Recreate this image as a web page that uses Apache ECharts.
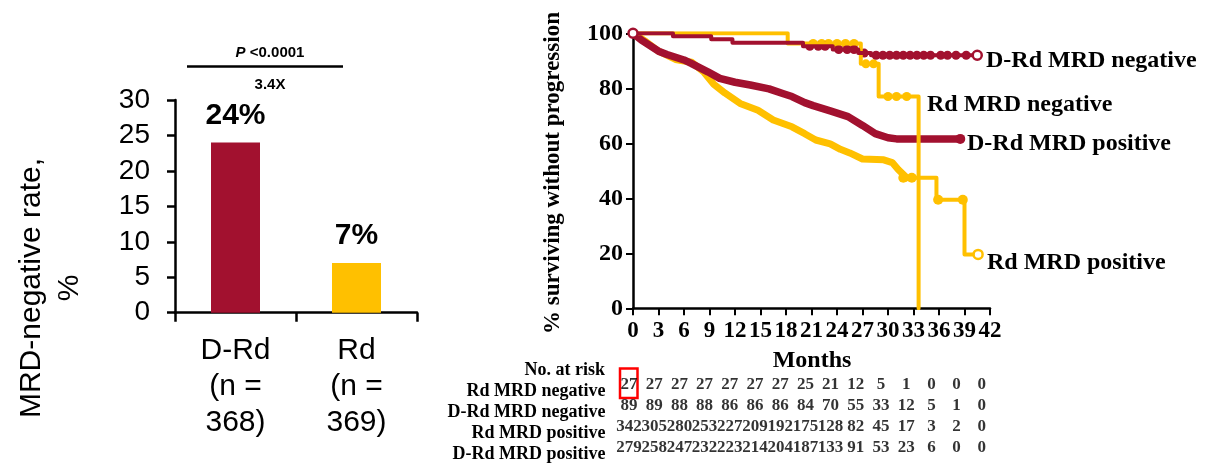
<!DOCTYPE html>
<html>
<head>
<meta charset="utf-8">
<script src="https://cdn.jsdelivr.net/npm/echarts@6.0.0/dist/echarts.min.js"></script>
<style>
  html, body { margin: 0; padding: 0; background: #fff; }
  #main { width: 1206px; height: 465px; }
</style>
</head>
<body>
<div id="main"></div>
<script>
// left panel: MRD-negative rate
const barCats = ['D-Rd\n(n =\n368)', 'Rd\n(n =\n369)'];
const barVals = [24, 7];
const barColors = ['#A2112F', '#FFC000'];

// right panel: PFS curves (months, % surviving)
const monthTicks = [0, 3, 6, 9, 12, 15, 18, 21, 24, 27, 30, 33, 36, 39, 42];
const rdNeg = [[0, 100], [18.2, 100], [18.2, 96.3], [26.8, 96.3], [26.8, 88.9], [28.9, 88.9], [28.9, 77], [33.6, 77], [33.6, 0]];
const drdNeg = [[0, 100], [4.7, 100], [4.7, 98.9], [9.2, 98.9], [9.2, 97.8], [11.7, 97.8], [11.7, 96.6], [20, 96.6], [20, 95.3],
    [23.5, 95.3], [23.5, 94.1], [26.5, 94.1], [26.5, 92.8], [28, 92.8], [28, 92], [40.5, 92]];
const rdPos = [[0, 100], [1.5, 97], [3, 93.5], [5, 90.5], [6.9, 89.5], [8.3, 86], [9.5, 81.5], [10.8, 78.3], [12.6, 74.5], [14.7, 72],
    [16.5, 68.5], [18.7, 66], [20.2, 63.5], [21.5, 61.2], [23.2, 59.8], [24.4, 57.8], [25.5, 56.5], [27, 54.3], [29.5, 54],
    [30.5, 53], [31.2, 50.5], [32.2, 47.5]];
const rdPosTail = [[32.2, 47.5], [35.7, 47.5], [35.7, 39.5], [39, 39.5], [39, 19.6], [40.6, 19.6]];
const drdPos = [[0, 100], [1, 97.5], [2, 95.5], [3, 93.5], [4, 92.3], [6, 90.3], [6.9, 89], [8.8, 86], [10.2, 83.6], [12, 82.2],
    [13.8, 81.2], [16, 79.8], [17.7, 78], [18.7, 77], [20.2, 74.8], [21.2, 73.7], [23.2, 71.8], [25.3, 69.7], [27, 66.5],
    [28.5, 63.5], [30, 62], [31, 61.6], [38.5, 61.6]];

// censoring marks
const drdNegCensor = [[20.8, 95.3], [21.8, 95.3], [22.6, 95.3], [24.2, 94.1], [25.2, 94.1], [26, 94.1], [27.2, 92.8], [28.6, 92],
    [29.4, 92], [30.2, 92], [31, 92], [31.8, 92], [32.6, 92], [33.4, 92], [34.2, 92], [35, 92], [36.2, 92], [37, 92], [38, 92], [39.2, 92]];
const rdNegCensor = [[21.2, 96.3], [22.2, 96.3], [23, 96.3], [24, 96.3], [25, 96.3], [26, 96.3], [27.4, 88.9], [28.3, 88.9],
    [30, 77], [31, 77], [32.2, 77]];
const rdPosCensor = [[31.8, 47.5], [32.8, 47.5], [35.9, 39.5], [38.8, 39.5]];
const drdPosCensor = [[38.5, 61.6]];

// number at risk
const riskRows = ['Rd MRD negative', 'D-Rd MRD negative', 'Rd MRD positive', 'D-Rd MRD positive'];
const riskRdNeg = [27, 27, 27, 27, 27, 27, 27, 25, 21, 12, 5, 1, 0, 0, 0];
const riskDRdNeg = [89, 89, 88, 88, 86, 86, 86, 84, 70, 55, 33, 12, 5, 1, 0];
const riskRdPos = [342, 305, 280, 253, 227, 209, 192, 175, 128, 82, 45, 17, 3, 2, 0];
const riskDRdPos = [279, 258, 247, 232, 223, 214, 204, 187, 133, 91, 53, 23, 6, 0, 0];

const RED = '#A2112F';
const YEL = '#FFC000';
const SANS = 'Liberation Sans';
const SERIF = 'Liberation Serif';

let myChart = echarts.init(document.getElementById('main'));

let riskData = [];
[riskRdNeg, riskDRdNeg, riskRdPos, riskDRdPos].forEach((row, r) => {
    row.forEach((v, c) => riskData.push([c, r, v]));
});

function lineSeries(data, color, width) {
    return {
        type: 'line', xAxisIndex: 1, yAxisIndex: 1, data: data,
        showSymbol: false, symbol: 'none',
        lineStyle: { color: color, width: width, join: 'round', cap: 'round' },
        silent: true
    };
}
function censorSeries(data, color, size) {
    return {
        type: 'scatter', xAxisIndex: 1, yAxisIndex: 1, data: data,
        symbol: 'circle', symbolSize: size,
        itemStyle: { color: color, opacity: 1 },
        silent: true
    };
}
function openSeries(data, color) {
    return {
        type: 'scatter', xAxisIndex: 1, yAxisIndex: 1, data: data,
        symbol: 'circle', symbolSize: 9,
        itemStyle: { color: '#fff', borderColor: color, borderWidth: 2.5, opacity: 1 },
        silent: true, z: 5
    };
}

const axisBlack = { lineStyle: { color: '#000', width: 2.5 } };

myChart.setOption({
    animation: false,
    backgroundColor: '#fff',
    grid: [
        { left: 175, top: 100, width: 242, height: 212.7, outerBoundsMode: 'none' },
        { left: 633, top: 33.3, width: 357, height: 275, outerBoundsMode: 'none' },
        { left: 616.4, top: 374.5, width: 378, height: 84, outerBoundsMode: 'none' }
    ],
    xAxis: [
        {
            gridIndex: 0, type: 'category', data: barCats,
            axisLine: axisBlack,
            axisTick: { show: true, length: 9, lineStyle: { color: '#000', width: 2.5 } },
            axisLabel: { color: '#000', fontFamily: SANS, fontSize: 30, lineHeight: 36, margin: 20, interval: 0 }
        },
        {
            gridIndex: 1, type: 'value', min: 0, max: 42, interval: 3,
            axisLine: axisBlack,
            axisTick: { show: true, length: 7, lineStyle: { color: '#000', width: 2 } },
            axisLabel: { color: '#000', fontFamily: SERIF, fontWeight: 'bold', fontSize: 23, margin: 11 },
            splitLine: { show: false }
        },
        {
            gridIndex: 2, type: 'category', data: monthTicks,
            show: false
        }
    ],
    yAxis: [
        {
            gridIndex: 0, type: 'value', min: 0, max: 30, interval: 5,
            axisLine: { show: true, lineStyle: { color: '#000', width: 2.5 } },
            axisTick: { show: true, length: 8, lineStyle: { color: '#000', width: 2.5 } },
            axisLabel: { color: '#000', fontFamily: SANS, fontSize: 28, margin: 25 },
            splitLine: { show: false }
        },
        {
            gridIndex: 1, type: 'value', min: 0, max: 100, interval: 20,
            axisLine: { show: true, lineStyle: { color: '#000', width: 2.5 } },
            axisTick: { show: true, length: 7, lineStyle: { color: '#000', width: 2 } },
            axisLabel: { color: '#000', fontFamily: SERIF, fontWeight: 'bold', fontSize: 24, margin: 10 },
            splitLine: { show: false }
        },
        {
            gridIndex: 2, type: 'category', data: riskRows, inverse: true,
            axisLine: { show: false }, axisTick: { show: false },
            axisLabel: {
                color: '#000', fontFamily: SERIF, fontWeight: 'bold', fontSize: 18, margin: 11,
                verticalAlign: 'top', lineHeight: 13, interval: 0, hideOverlap: false
            }
        }
    ],
    series: [
        {
            type: 'bar', xAxisIndex: 0, yAxisIndex: 0, barWidth: 49,
            data: barVals.map((v, i) => ({ value: v, itemStyle: { color: barColors[i] } })),
            label: {
                show: true, position: 'top', distance: 12,
                formatter: '{c}%', color: '#000', fontFamily: SANS, fontWeight: 'bold', fontSize: 30
            },
            silent: true
        },
        lineSeries(rdPos, YEL, 7),
        lineSeries(rdPosTail, YEL, 4),
        censorSeries(rdPosCensor, YEL, 10),
        lineSeries(drdPos, RED, 7.5),
        censorSeries(drdPosCensor, RED, 10),
        lineSeries(rdNeg, YEL, 4),
        censorSeries(rdNegCensor, YEL, 9),
        lineSeries(drdNeg, RED, 4),
        censorSeries(drdNegCensor, RED, 9),
        openSeries([[0, 100], drdNeg[drdNeg.length - 1]], RED),
        openSeries([rdPosTail[rdPosTail.length - 1]], YEL),
        {
            type: 'scatter', xAxisIndex: 2, yAxisIndex: 2, data: riskData,
            symbolSize: 0, silent: true,
            label: {
                show: true, position: 'inside', formatter: p => p.value[2],
                color: '#000', fontFamily: SERIF, fontWeight: 'bold', fontSize: 17
            }
        }
    ],
    graphic: [
        {
            type: 'text', x: 51, y: 288, rotation: Math.PI / 2,
            style: {
                text: 'MRD-negative rate,\n%', fill: '#000', font: '30px "Liberation Sans"',
                lineHeight: 38, align: 'center', verticalAlign: 'middle'
            }
        },
        {
            type: 'text', x: 270, y: 53,
            style: {
                text: '{i|P} <0.0001', fill: '#000', font: 'bold 15px "Liberation Sans"',
                align: 'center', verticalAlign: 'middle',
                rich: { i: { fontStyle: 'italic', fontWeight: 'bold', fontSize: 15, fontFamily: SANS } }
            }
        },
        {
            type: 'line', shape: { x1: 187, y1: 66.5, x2: 343, y2: 66.5 },
            style: { stroke: '#000', lineWidth: 2.5 }
        },
        {
            type: 'text', x: 270, y: 85,
            style: { text: '3.4X', fill: '#000', font: 'bold 15px "Liberation Sans"', align: 'center', verticalAlign: 'middle' }
        },
        {
            type: 'text', x: 553, y: 173, rotation: Math.PI / 2,
            style: {
                text: '% surviving without progression', fill: '#000', font: 'bold 23px "Liberation Serif"',
                align: 'center', verticalAlign: 'middle'
            }
        },
        {
            type: 'text', x: 812, y: 361,
            style: { text: 'Months', fill: '#000', font: 'bold 24px "Liberation Serif"', align: 'center', verticalAlign: 'middle' }
        },
        {
            type: 'text', x: 986, y: 61,
            style: { text: 'D-Rd MRD negative', fill: '#000', font: 'bold 24px "Liberation Serif"', align: 'left', verticalAlign: 'middle' }
        },
        {
            type: 'text', x: 927, y: 105,
            style: { text: 'Rd MRD negative', fill: '#000', font: 'bold 24px "Liberation Serif"', align: 'left', verticalAlign: 'middle' }
        },
        {
            type: 'text', x: 967, y: 144,
            style: { text: 'D-Rd MRD positive', fill: '#000', font: 'bold 24px "Liberation Serif"', align: 'left', verticalAlign: 'middle' }
        },
        {
            type: 'text', x: 987, y: 263,
            style: { text: 'Rd MRD positive', fill: '#000', font: 'bold 24px "Liberation Serif"', align: 'left', verticalAlign: 'middle' }
        },
        {
            type: 'text', x: 605, y: 370,
            style: { text: 'No. at risk', fill: '#000', font: 'bold 18px "Liberation Serif"', align: 'right', verticalAlign: 'middle' }
        },
        {
            type: 'rect', shape: { x: 620, y: 368.5, width: 17.5, height: 29.5 },
            style: { fill: 'none', stroke: '#FF0000', lineWidth: 2.5 }
        }
    ]
});

window.addEventListener('resize', myChart.resize);
</script>
</body>
</html>
